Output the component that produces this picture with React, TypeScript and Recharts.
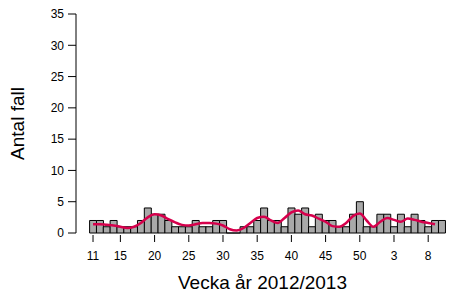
import { ComposedChart, Bar, Line, XAxis, YAxis } from "recharts";

// veckor 11-52 (2012) och 1-10 (2013)
const weeks = [
  "11", "12", "13", "14", "15", "16", "17", "18", "19", "20",
  "21", "22", "23", "24", "25", "26", "27", "28", "29", "30",
  "31", "32", "33", "34", "35", "36", "37", "38", "39", "40",
  "41", "42", "43", "44", "45", "46", "47", "48", "49", "50",
  "51", "52", "1", "2", "3", "4", "5", "6", "7", "8", "9", "10",
];

const cases = [
  2, 2, 1, 2, 1, 1, 1, 2, 4, 3,
  3, 2, 1, 1, 1, 2, 1, 1, 2, 2,
  0, 0, 1, 1, 2, 4, 2, 2, 1, 4,
  3, 4, 1, 3, 2, 2, 1, 1, 3, 5,
  1, 1, 3, 3, 1, 3, 1, 3, 2, 1, 2, 2,
];

const trend = [
  1.4, 1.4, 1.3, 1.2, 1.0, 0.8, 1.0, 1.6, 2.5, 3.0,
  2.8, 2.2, 1.7, 1.3, 1.2, 1.4, 1.6, 1.6, 1.5, 1.2,
  0.6, 0.4, 0.8, 1.6, 2.4, 2.6, 2.0, 1.6, 2.4, 3.3,
  3.6, 3.0, 2.8, 2.3, 1.8, 1.1, 1.0, 1.6, 2.7, 3.1,
  2.0, 1.0, 1.8, 2.4, 2.1, 1.8, 2.3, 2.1, 1.8, 1.6, 1.4, null,
];

const xTicks = ["11", "15", "20", "25", "30", "35", "40", "45", "50", "3", "8"];
const yTicks = [0, 5, 10, 15, 20, 25, 30, 35];

const data = weeks.map((w, i) => ({ week: w, cases: cases[i], trend: trend[i] }));

const FONT = "'Liberation Sans', Arial, sans-serif";

// R-style bar: draws the outline even when the count is 0
const BarShape = (p: any) => {
  const { x, y, width, height } = p;
  return (
    <path
      d={`M${x},${y + height} V${y} H${x + width} V${y + height} Z`}
      fill="#a9a9a9"
      stroke="#000"
      strokeWidth={1}
    />
  );
};

const WeekTick = ({ x, y, payload }: any) => (
  <g>
    <line x1={x} x2={x} y1={y + 2} y2={y + 9} stroke="#000" strokeWidth={1} />
    <text x={x} y={y + 27} textAnchor="middle" fontSize={12} fill="#000" fontFamily={FONT}>
      {payload.value}
    </text>
  </g>
);

const YTitle = ({ viewBox }: any) => {
  const cx = viewBox.x + 24;
  const cy = viewBox.y + viewBox.height / 2;
  return (
    <text
      x={cx}
      y={cy}
      transform={`rotate(-90 ${cx} ${cy})`}
      textAnchor="middle"
      fontSize={19}
      fill="#000"
      fontFamily={FONT}
    >
      Antal fall
    </text>
  );
};

export default function App() {
  return (
    <div style={{ position: "absolute", left: 0, top: 0, background: "#fff" }}>
      <ComposedChart
        width={449}
        height={299}
        data={data}
        margin={{ top: 14, right: 0, bottom: 0, left: 0 }}
        barCategoryGap={0}
        style={{ fontFamily: FONT }}
      >
        <XAxis
          dataKey="week"
          type="category"
          ticks={xTicks}
          interval={0}
          axisLine={false}
          tickLine={false}
          tickSize={0}
          tickMargin={0}
          height={66}
          padding={{ left: 13.6, right: 3.7 }}
          tick={<WeekTick />}
          label={{ value: "Vecka år 2012/2013", position: "insideBottom", offset: 10, fill: "#000", fontSize: 19 }}
        />
        <YAxis
          type="number"
          domain={[0, 35]}
          ticks={yTicks}
          interval={0}
          width={76}
          axisLine={{ stroke: "#000" }}
          tickLine={{ stroke: "#000" }}
          tickSize={8}
          tickMargin={4}
          tick={{ fontSize: 12, fill: "#000", fontFamily: FONT }}
          label={{ content: <YTitle /> }}
        />
        <Bar dataKey="cases" shape={<BarShape />} isAnimationActive={false} />
        <Line
          type="monotone"
          dataKey="trend"
          stroke="#d6004c"
          strokeWidth={2.5}
          dot={false}
          activeDot={false}
          connectNulls={false}
          isAnimationActive={false}
        />
      </ComposedChart>
    </div>
  );
}
